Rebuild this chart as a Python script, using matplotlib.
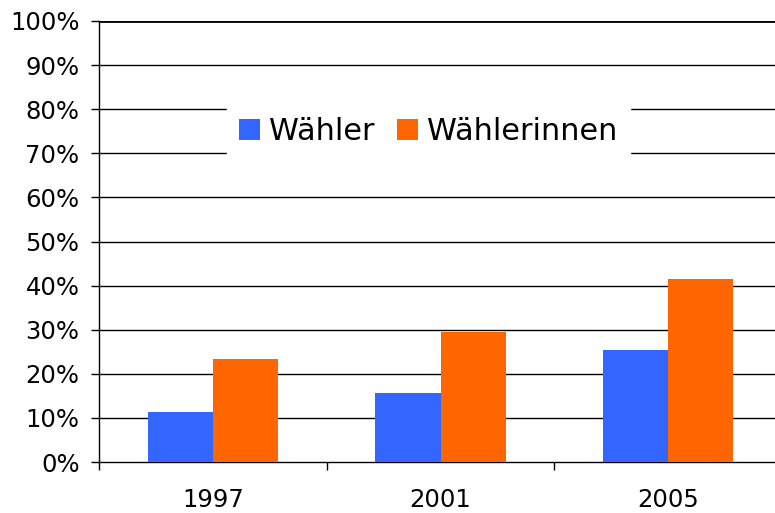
import numpy as np
import matplotlib
matplotlib.use('Agg')
import matplotlib.pyplot as plt
from matplotlib.ticker import FixedLocator

years = ['1997', '2001', '2005']
waehler = [11.3, 15.6, 25.3]
waehlerinnen = [23.3, 29.4, 41.4]
series_names = ['Wähler', 'Wählerinnen']
y_ticks = list(range(0, 101, 10))

fig = plt.figure(figsize=(7.75, 5.13), dpi=100)
ax = fig.add_axes([99 / 775, 1 - 462 / 513, 683 / 775, 441 / 513])

x = np.arange(len(years))
w = 1 / 3.5
ax.bar(x - w / 2, waehler, w, color='#3366FF', label=series_names[0], zorder=3)
ax.bar(x + w / 2, waehlerinnen, w, color='#FF6600', label=series_names[1], zorder=3)

ax.set_xlim(-0.5, len(years) - 0.5)
ax.set_ylim(0, 100)

# gridlines
for t in y_ticks[1:]:
    ax.axhline(t, color='black', lw=2.0 if t == 100 else 1.0, zorder=1)

ax.set_yticks(y_ticks)
ax.set_yticklabels([f'{t}%' for t in y_ticks])
ax.set_xticks(x)
ax.set_xticklabels(years)
ax.xaxis.set_minor_locator(FixedLocator(np.arange(-0.5, len(years), 1.0)))

ax.tick_params(axis='y', length=6, width=1, direction='out', pad=8, labelsize=17.5, colors='black')
ax.tick_params(axis='x', which='major', length=0, pad=19, labelsize=17.5)
ax.tick_params(axis='x', which='minor', length=6, width=1, direction='out')

for s in ['top', 'right']:
    ax.spines[s].set_visible(False)
ax.spines['left'].set_linewidth(1)
ax.spines['bottom'].set_linewidth(1)

leg = ax.legend(loc='center', bbox_to_anchor=(0.482, 0.75), ncol=2, fontsize=21.8,
                frameon=True, fancybox=False, borderpad=0.4,
                handlelength=0.7, handleheight=0.7, handletextpad=0.3,
                columnspacing=0.75)
leg.get_frame().set_facecolor('white')
leg.get_frame().set_edgecolor('white')
leg.get_frame().set_alpha(1)
leg.set_zorder(10)

plt.savefig('out.png', dpi=100)
